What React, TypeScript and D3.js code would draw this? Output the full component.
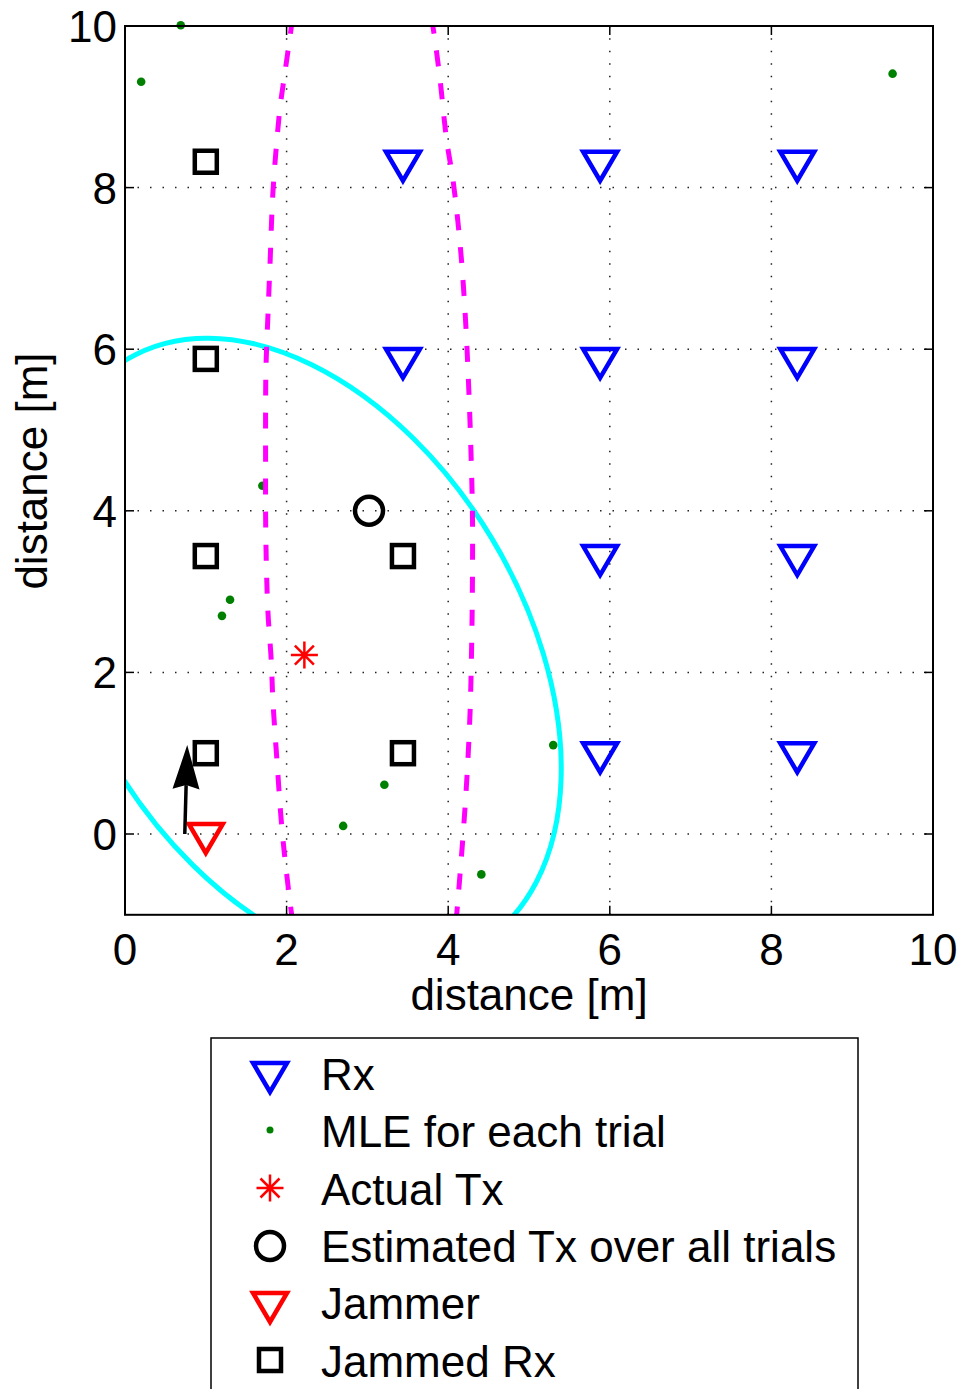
import React from "react";
import * as d3 from "d3";

// ---- data ----
const xTicks = [0, 2, 4, 6, 8, 10];
const yTicks = [0, 2, 4, 6, 8, 10];

const rxX = [3.44, 5.88, 8.32, 3.44, 5.88, 8.32, 5.88, 8.32, 5.88, 8.32];
const rxY = [8.32, 8.32, 8.32, 5.88, 5.88, 5.88, 3.44, 3.44, 1.0, 1.0];

const jammedX = [1.0, 1.0, 1.0, 1.0, 3.44, 3.44];
const jammedY = [8.32, 5.88, 3.44, 1.0, 3.44, 1.0];

const mleX = [0.2, 0.69, 9.5, 1.7, 1.3, 1.2, 3.21, 2.7, 4.41, 5.3];
const mleY = [9.31, 10.01, 9.41, 4.31, 2.9, 2.7, 0.61, 0.1, -0.5, 1.1];

const actualTx = [2.22, 2.215];
const estTx = [3.02, 4.0];
const jammer = [1.0, 0.0];
const arrowStart = [0.74, 0.0];
const arrowEnd = [0.77, 1.1];

// cyan contour ellipse (centre, semi-axes in metres, tilt in degrees)
const ellipseCenter = [2.205, 2.255];
const ellipseSemiMajor = 4.225;
const ellipseSemiMinor = 2.724;
const ellipseTiltDeg = -58.9;

// magenta dashed curves
const magLeftX = [2.07, 2.06, 1.98, 1.92, 1.88, 1.83, 1.795, 1.77, 1.745, 1.74, 1.74, 1.74, 1.75, 1.77, 1.81, 1.83, 1.88, 1.94, 2.0, 2.06, 2.07];
const magLeftY = [10.1, 10.0, 9.43, 9.0, 8.59, 7.93, 7.06, 6.44, 5.78, 5.21, 4.59, 3.97, 3.31, 2.73, 2.15, 1.66, 0.92, 0.09, -0.49, -0.98, -1.05];
const magRightX = [3.8, 3.81, 3.83, 3.9, 3.98, 4.06, 4.15, 4.21, 4.25, 4.28, 4.3, 4.3, 4.29, 4.27, 4.23, 4.18, 4.11, 4.1];
const magRightY = [10.1, 10.0, 9.87, 9.33, 8.59, 8.09, 7.27, 6.44, 5.62, 4.79, 3.97, 3.14, 2.32, 1.49, 0.67, -0.07, -0.94, -1.05];

const legendLabels = ["Rx", "MLE for each trial", "Actual Tx", "Estimated Tx over all trials", "Jammer", "Jammed Rx"];

// ---- layout ----
const W = 962;
const H = 1389;
const L = 125, R = 933, T = 26, B = 914.8;
const FONT = "'Liberation Sans', Arial, Helvetica, sans-serif";

const x = d3.scaleLinear().domain([0, 10]).range([L, R]);
const y = d3.scaleLinear().domain([-1, 10]).range([B, T]);
const pxPerUnit = x(1) - x(0);

const zip = (xs: number[], ys: number[]) => xs.map((v, i) => [v, ys[i]] as [number, number]);

const curveLine = d3
  .line<[number, number]>()
  .x((d) => x(d[0]))
  .y((d) => y(d[1]))
  .curve(d3.curveCatmullRom.alpha(0.5));

const MW = 4.5;

function Tri({ cx, cy, color }: { cx: number; cy: number; color: string }) {
  const p = `M${cx - 17},${cy - 10} L${cx + 17},${cy - 10} L${cx},${cy + 19} Z`;
  return <path d={p} fill="none" stroke={color} strokeWidth={MW} strokeLinejoin="miter" />;
}
function Sq({ cx, cy }: { cx: number; cy: number }) {
  return <rect x={cx - 11} y={cy - 11} width={22} height={22} fill="none" stroke="#000" strokeWidth={MW} />;
}
function Star({ cx, cy }: { cx: number; cy: number }) {
  const a = 13.5, b = 9.5;
  const d = `M${cx - a},${cy} L${cx + a},${cy} M${cx},${cy - a} L${cx},${cy + a} M${cx - b},${cy - b} L${cx + b},${cy + b} M${cx - b},${cy + b} L${cx + b},${cy - b}`;
  return <path d={d} stroke="#ff0000" strokeWidth={2.5} fill="none" />;
}
function Circ({ cx, cy }: { cx: number; cy: number }) {
  return <circle cx={cx} cy={cy} r={14} fill="none" stroke="#000" strokeWidth={MW} />;
}
function Dot({ cx, cy, r = 4.3 }: { cx: number; cy: number; r?: number }) {
  return <circle cx={cx} cy={cy} r={r} fill="#008000" />;
}

export default function App() {
  const ax0 = x(arrowStart[0]), ay0 = y(arrowStart[1]);
  const ax1 = x(arrowEnd[0]), ay1 = y(arrowEnd[1]);
  const ang = Math.atan2(ay1 - ay0, ax1 - ax0);
  const headLen = 44, headW = 13.5;
  const bx = ax1 - headLen * Math.cos(ang), by = ay1 - headLen * Math.sin(ang);
  const nx = -Math.sin(ang), ny = Math.cos(ang);
  const notchX = ax1 - (headLen - 4) * Math.cos(ang), notchY = ay1 - (headLen - 4) * Math.sin(ang);
  const head = `M${ax1},${ay1} L${bx + nx * headW},${by + ny * headW} L${notchX},${notchY} L${bx - nx * headW},${by - ny * headW} Z`;

  const legendRowY = (i: number) => 1090 + i * 57.3;
  const legendMarkY = [1073, 1130, 1188, 1246, 1303, 1360];

  const ecx = x(ellipseCenter[0]);
  const ecy = y(ellipseCenter[1]);

  return (
    <svg
      width={W}
      height={H}
      viewBox={`0 0 ${W} ${H}`}
      style={{ position: "absolute", left: 0, top: 0, background: "#fff" }}
      fontFamily={FONT}
    >
      <defs>
        <clipPath id="plotClip">
          <rect x={L} y={T} width={R - L} height={B - T} />
        </clipPath>
      </defs>
      <rect x={0} y={0} width={W} height={H} fill="#fff" />

      {/* grid */}
      <g stroke="#222" strokeWidth={1.5} strokeDasharray="1.5,11">
        {xTicks.filter((t) => t > 0 && t < 10).map((t) => (
          <line key={"gx" + t} x1={x(t)} x2={x(t)} y1={B} y2={T} />
        ))}
        {yTicks.filter((t) => t < 10).map((t) => (
          <line key={"gy" + t} x1={L} x2={R} y1={y(t)} y2={y(t)} />
        ))}
      </g>

      {/* MLE dots (under the curves) */}
      {mleX.map((v, i) => (
        <Dot key={"m" + i} cx={x(v)} cy={y(mleY[i])} />
      ))}

      {/* curves */}
      <g clipPath="url(#plotClip)" fill="none">
        <ellipse
          cx={ecx}
          cy={ecy}
          rx={ellipseSemiMajor * pxPerUnit}
          ry={ellipseSemiMinor * pxPerUnit}
          transform={`rotate(${-ellipseTiltDeg}, ${ecx}, ${ecy})`}
          stroke="#00ffff"
          strokeWidth={5}
        />
        <path d={curveLine(zip(magLeftX, magLeftY)) || ""} stroke="#ff00ff" strokeWidth={5} strokeDasharray="16,17" />
        <path d={curveLine(zip(magRightX, magRightY)) || ""} stroke="#ff00ff" strokeWidth={5} strokeDasharray="16,17" />
      </g>

      {/* markers */}
      {rxX.map((v, i) => (
        <Tri key={"rx" + i} cx={x(v)} cy={y(rxY[i])} color="#0000ff" />
      ))}
      {jammedX.map((v, i) => (
        <Sq key={"j" + i} cx={x(v)} cy={y(jammedY[i])} />
      ))}
      <Circ cx={x(estTx[0])} cy={y(estTx[1])} />
      <Star cx={x(actualTx[0])} cy={y(actualTx[1])} />
      <Tri cx={x(jammer[0])} cy={y(jammer[1])} color="#ff0000" />

      {/* arrow */}
      <line x1={ax0} y1={ay0} x2={notchX} y2={notchY} stroke="#000" strokeWidth={3.5} />
      <path d={head} fill="#000" />

      {/* axes box and ticks */}
      <rect x={L} y={T} width={R - L} height={B - T} fill="none" stroke="#000" strokeWidth={2} />
      <g stroke="#000" strokeWidth={1.5}>
        {xTicks.map((t) => (
          <g key={"tx" + t}>
            <line x1={x(t)} x2={x(t)} y1={B} y2={B - 9} />
            <line x1={x(t)} x2={x(t)} y1={T} y2={T + 9} />
          </g>
        ))}
        {yTicks.map((t) => (
          <g key={"ty" + t}>
            <line x1={L} x2={L + 9} y1={y(t)} y2={y(t)} />
            <line x1={R} x2={R - 9} y1={y(t)} y2={y(t)} />
          </g>
        ))}
      </g>

      {/* tick labels */}
      <g fontSize={44} fill="#000">
        {xTicks.map((t) => (
          <text key={"lx" + t} x={x(t)} y={965} textAnchor="middle">
            {t}
          </text>
        ))}
        {yTicks.map((t) => (
          <text key={"ly" + t} x={117} y={y(t) + 16} textAnchor="end">
            {t}
          </text>
        ))}
      </g>

      {/* axis labels */}
      <text x={(L + R) / 2} y={1010} fontSize={44} textAnchor="middle">
        distance [m]
      </text>
      <text transform={`translate(47,${471}) rotate(-90)`} fontSize={44} textAnchor="middle">
        distance [m]
      </text>

      {/* legend */}
      <rect x={211} y={1038} width={647} height={400} fill="#fff" stroke="#000" strokeWidth={1.5} />
      <Tri cx={270} cy={legendMarkY[0]} color="#0000ff" />
      <Dot cx={270} cy={legendMarkY[1]} r={3.5} />
      <Star cx={270} cy={legendMarkY[2]} />
      <Circ cx={270} cy={legendMarkY[3]} />
      <Tri cx={270} cy={legendMarkY[4]} color="#ff0000" />
      <Sq cx={270} cy={legendMarkY[5]} />
      <g fontSize={44} fill="#000">
        {legendLabels.map((s, i) => (
          <text key={"lg" + i} x={321} y={legendRowY(i)}>
            {s}
          </text>
        ))}
      </g>
    </svg>
  );
}
